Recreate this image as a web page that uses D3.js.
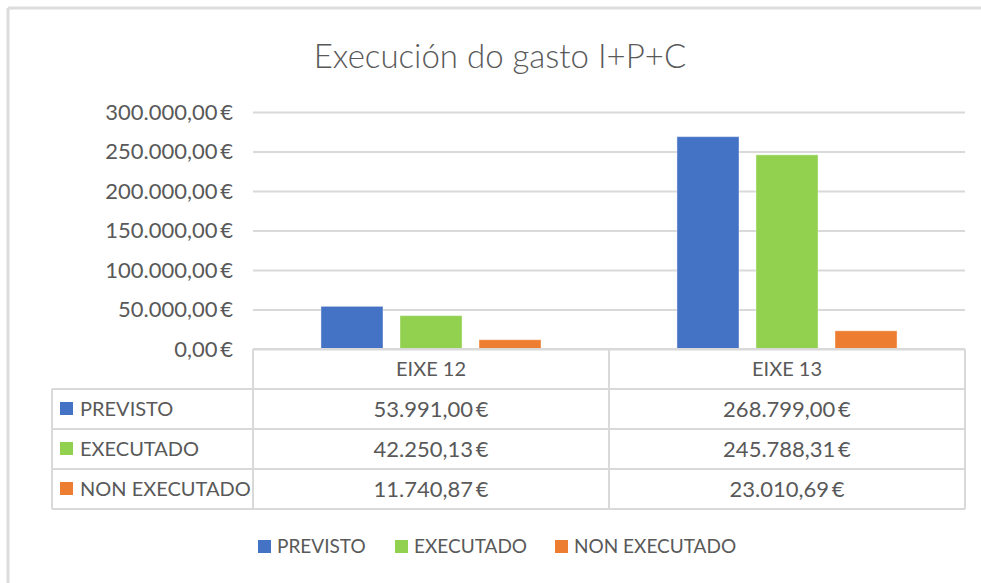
<!DOCTYPE html>
<html>
<head>
<meta charset="utf-8">
<script src="https://cdn.jsdelivr.net/npm/d3@7"></script>
<style>
  html, body { margin: 0; padding: 0; background: #fff; }
  svg { display: block; font-family: Lato, 'Open Sans', sans-serif; }
</style>
</head>
<body>
<div id="canvas"></div>
<script>
// data
var categories = ['EIXE 12', 'EIXE 13']
var series = ['PREVISTO', 'EXECUTADO', 'NON EXECUTADO']
var previsto = [53991.00, 268799.00]
var executado = [42250.13, 245788.31]
var nonExecutado = [11740.87, 23010.69]
var yTicks = [0, 50000, 100000, 150000, 200000, 250000, 300000]
var colors = ['#4472C4', '#92D050', '#ED7D31']

var values = [previsto, executado, nonExecutado]

var width = 981,
  height = 583

var svg = d3.select('#canvas')
  .append('svg')
  .attr('width', width)
  .attr('height', height)

var locale = d3.formatLocale({
  decimal: ',',
  thousands: '.',
  grouping: [3],
  currency: ['', '\u2009€']
})
var fmt = locale.format('$,.2f')

// chart frame (only top and left edges show)
svg.append('line')
  .attr('x1', 8).attr('x2', width).attr('y1', 8).attr('y2', 8)
  .style('stroke', '#dcdcdc').style('stroke-width', 3)
svg.append('line')
  .attr('x1', 8).attr('x2', 8).attr('y1', 8).attr('y2', height)
  .style('stroke', '#dcdcdc').style('stroke-width', 3)

svg.append('text')
  .attr('x', 500)
  .attr('y', 68)
  .attr('text-anchor', 'middle')
  .style('font-size', '33px')
  .style('font-weight', 300)
  .style('fill', '#595959')
  .text('Execución do gasto I+P+C')

var x0 = d3.scaleBand()
  .domain(categories)
  .range([253, 965])

var x1 = d3.scaleBand()
  .domain(series)
  .range([0, x0.bandwidth()])
  .paddingInner(0.215)
  .paddingOuter(0.86)

var y = d3.scaleLinear()
  .domain([0, 300000])
  .range([349, 112])

// gridlines + y labels
var yAxis = svg.append('g')
  .attr('transform', 'translate(253,0)')
  .call(d3.axisLeft(y).tickValues(yTicks).tickSize(-(965 - 253)).tickPadding(20).tickFormat(fmt))
yAxis.select('.domain').remove()
yAxis.selectAll('.tick line')
  .style('stroke', '#d9d9d9')
  .style('stroke-width', 2)
yAxis.selectAll('.tick text')
  .style('font-size', '22px')
  .style('fill', '#595959')
  .style('font-family', 'Lato, sans-serif')

// bars
svg.append('g')
  .selectAll('g')
  .data(series)
  .enter()
  .append('g')
  .style('fill', (d, i) => colors[i])
  .selectAll('rect')
  .data((s, i) => categories.map((c, j) => ({ cat: c, s: s, v: values[i][j] })))
  .enter()
  .append('rect')
  .attr('x', d => x0(d.cat) + x1(d.s))
  .attr('y', d => y(d.v))
  .attr('width', x1.bandwidth())
  .attr('height', d => y(0) - y(d.v))
  .style('stroke', '#fff')
  .style('stroke-opacity', 0.4)
  .style('stroke-width', 1)

// data table
var rows = d3.scaleBand()
  .domain(['header'].concat(series))
  .range([349, 509])

var tableLeft = 52
var grid = svg.append('g')
  .style('stroke', '#d9d9d9')
  .style('stroke-width', 2)

// horizontal lines
grid.append('line')
  .attr('x1', 253).attr('x2', 965)
  .attr('y1', rows('header')).attr('y2', rows('header'))
series.forEach(s => {
  grid.append('line')
    .attr('x1', tableLeft).attr('x2', 965)
    .attr('y1', rows(s)).attr('y2', rows(s))
})
grid.append('line')
  .attr('x1', tableLeft).attr('x2', 965)
  .attr('y1', 509).attr('y2', 509)

// vertical lines
grid.append('line')
  .attr('x1', tableLeft).attr('x2', tableLeft)
  .attr('y1', rows(series[0])).attr('y2', 509)
categories.forEach(c => {
  grid.append('line')
    .attr('x1', x0(c)).attr('x2', x0(c))
    .attr('y1', 349).attr('y2', 509)
})
grid.append('line')
  .attr('x1', 965).attr('x2', 965)
  .attr('y1', 349).attr('y2', 509)

var table = svg.append('g')
  .style('font-size', '20px')
  .style('fill', '#595959')

table.selectAll('.cat')
  .data(categories)
  .enter()
  .append('text')
  .attr('x', d => x0(d) + x0.bandwidth() / 2)
  .attr('y', rows('header') + rows.bandwidth() / 2)
  .attr('dy', '0.35em')
  .attr('text-anchor', 'middle')
  .text(d => d)

series.forEach((s, i) => {
  var cy = rows(s) + rows.bandwidth() / 2
  table.append('rect')
    .attr('x', 60)
    .attr('y', cy - 7)
    .attr('width', 13)
    .attr('height', 13)
    .style('fill', colors[i])
  table.append('text')
    .attr('x', 80)
    .attr('y', cy)
    .attr('dy', '0.35em')
    .text(s)
  categories.forEach((c, j) => {
    table.append('text')
      .attr('x', x0(c) + x0.bandwidth() / 2)
      .attr('y', cy)
      .attr('dy', '0.35em')
      .attr('text-anchor', 'middle')
      .style('font-size', '22px')
      .text(fmt(values[i][j]))
  })
})

// legend
var legendX = [258, 395, 555]
var legend = svg.append('g')
  .selectAll('g')
  .data(series)
  .enter()
  .append('g')
  .attr('transform', (d, i) => 'translate(' + legendX[i] + ',546)')
legend.append('rect')
  .attr('x', 0)
  .attr('y', -6)
  .attr('width', 13)
  .attr('height', 13)
  .style('fill', (d, i) => colors[i])
legend.append('text')
  .attr('x', 19)
  .attr('y', 0)
  .attr('dy', '0.35em')
  .style('font-size', '19px')
  .style('fill', '#595959')
  .text(d => d)
</script>
</body>
</html>
